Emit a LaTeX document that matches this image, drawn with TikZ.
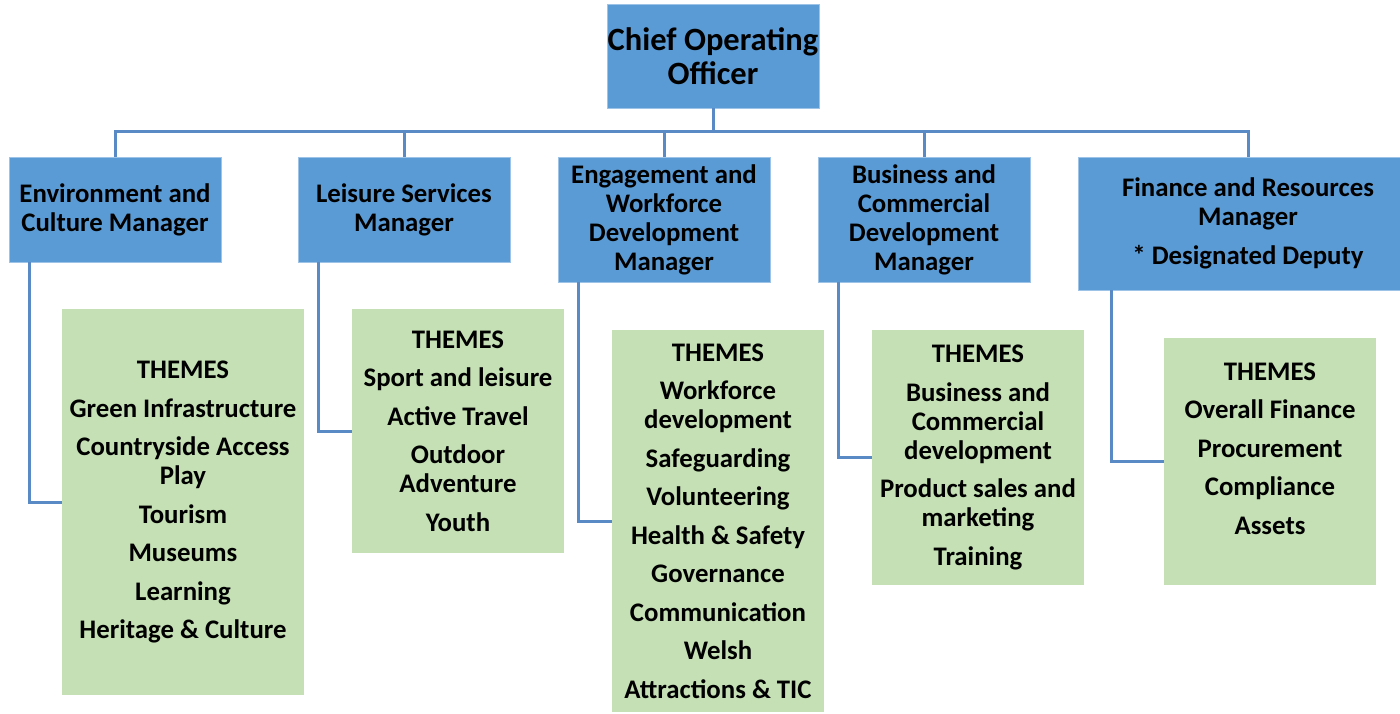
\documentclass[tikz,border=0pt]{standalone}
\usepackage{fontspec}
\setmainfont{Carlito}
\usetikzlibrary{positioning}
\definecolor{mgrblue}{HTML}{5B9BD5}
\definecolor{themegreen}{HTML}{C5E0B4}
\definecolor{linkblue}{HTML}{5A8AC6}
\begin{document}
\begin{tikzpicture}[x=1pt, y=-1pt,
  every node/.style={align=center, inner sep=0pt, outer sep=0pt, font=\bfseries\fontsize{26.8}{29}\selectfont},
  mgr/.style={fill=mgrblue, draw=mgrblue!60!white, line width=0.8pt, minimum width=212pt, minimum height=105pt},
  theme/.style={fill=themegreen, minimum width=212pt},
  link/.style={draw=linkblue, line width=3pt}]
\useasboundingbox (0,0) rectangle (1400,713);
% top of the chart
\node[mgr, minimum height=104pt, font=\bfseries\fontsize{32.5}{34}\selectfont] (coo) at (713,56) {Chief Operating\\Officer};
% managers
\node[mgr] (m1) at (115,209.5) {Environment and\\Culture Manager};
\node[mgr] (m2) at (404,209.5) {Leisure Services\\Manager};
\node[mgr, minimum height=125pt] (m3) at (664,219.5) {Engagement and\\Workforce\\Development\\Manager};
\node[mgr, minimum height=125pt] (m4) at (924,219.5) {Business and\\Commercial\\Development\\Manager};
\node[mgr, minimum width=340pt, minimum height=133pt] (m5) at (1248,223.5) {Finance and Resources\\Manager\\[10pt]* Designated Deputy};
% themes
\node[theme, minimum width=242pt, minimum height=386pt] (t1) at (183,502) {THEMES\\[9.5pt]Green Infrastructure\\[9.5pt]Countryside Access\\Play\\[9.5pt]Tourism\\[9.5pt]Museums\\[9.5pt]Learning\\[9.5pt]Heritage \& Culture};
\node[theme, minimum height=244pt] (t2) at (458,431) {THEMES\\[9.5pt]Sport and leisure\\[9.5pt]Active Travel\\[9.5pt]Outdoor\\Adventure\\[9.5pt]Youth};
\node[theme, minimum height=382pt] (t3) at (718,521) {THEMES\\[9.5pt]Workforce\\development\\[9.5pt]Safeguarding\\[9.5pt]Volunteering\\[9.5pt]Health \& Safety\\[9.5pt]Governance\\[9.5pt]Communication\\[9.5pt]Welsh\\[9.5pt]Attractions \& TIC};
\node[theme, minimum height=255pt] (t4) at (978,457.5) {THEMES\\[9.5pt]Business and\\Commercial\\development\\[9.5pt]Product sales and\\marketing\\[9.5pt]Training};
\node[theme, minimum height=247pt] (t5) at (1270,461.5) {THEMES\\[9.5pt]Overall Finance\\[9.5pt]Procurement\\[9.5pt]Compliance\\[9.5pt]Assets\\[-3pt]\mbox{}};
% connectors
\draw[link] (coo.south) -- ++(0,23) coordinate (bus);
\draw[link] (bus) -| (m1.north);
\draw[link] (bus) -| (m2.north);
\draw[link] (bus) -| (m3.north);
\draw[link] (bus) -| (m4.north);
\draw[link] (bus) -| (m5.north);
\draw[link] ([xshift=20pt]m1.south west) |- (t1.west);
\draw[link] ([xshift=20pt]m2.south west) |- (t2.west);
\draw[link] ([xshift=20pt]m3.south west) |- (t3.west);
\draw[link] ([xshift=20pt]m4.south west) |- (t4.west);
\draw[link] ([xshift=33pt]m5.south west) |- (t5.west);
\end{tikzpicture}
\end{document}
